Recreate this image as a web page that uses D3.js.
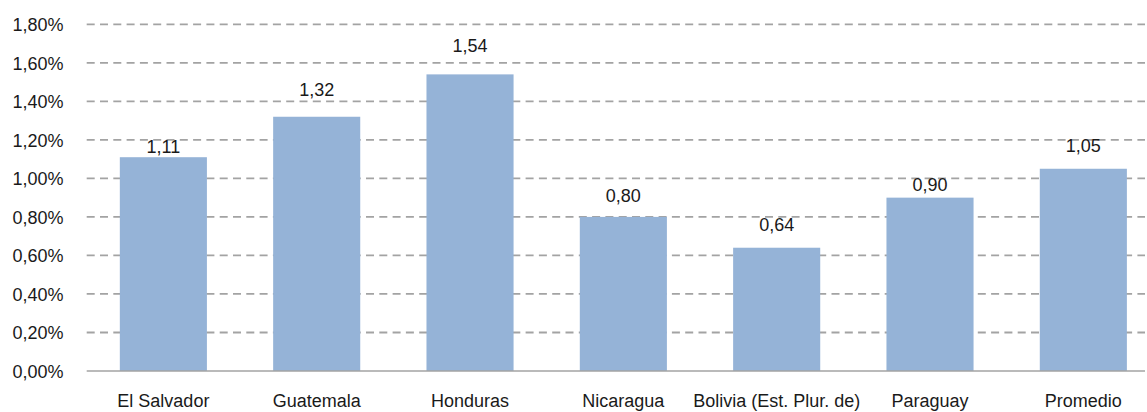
<!DOCTYPE html>
<html>
<head>
<meta charset="utf-8">
<script src="https://cdn.jsdelivr.net/npm/d3@7"></script>
<style>
  html, body { margin: 0; padding: 0; background: #fff; }
  svg { display: block; }
  text { font-family: "Liberation Sans", Arial, sans-serif; fill: #1a1a1a; }
</style>
</head>
<body>
<script>
const categories = ["El Salvador", "Guatemala", "Honduras", "Nicaragua", "Bolivia (Est. Plur. de)", "Paraguay", "Promedio"];
const values = [1.11, 1.32, 1.54, 0.80, 0.64, 0.90, 1.05];
const valueLabels = ["1,11", "1,32", "1,54", "0,80", "0,64", "0,90", "1,05"];
const yTicks = [0, 0.2, 0.4, 0.6, 0.8, 1.0, 1.2, 1.4, 1.6, 1.8];
const yTickLabels = ["0,00%", "0,20%", "0,40%", "0,60%", "0,80%", "1,00%", "1,20%", "1,40%", "1,60%", "1,80%"];
// label placement nudges (px above bar top), as in the original layout
const labelGap = [4, 21, 22, 15, 16.5, 6.5, 16.5];

const W = 1147, H = 412;
const svg = d3.select("body").append("svg").attr("width", W).attr("height", H);

const x = d3.scaleBand().domain(categories).range([86.7, 1160]).paddingInner(0.432).paddingOuter(0.216);
const y = d3.scaleLinear().domain([0, 1.8]).range([371, 24.3]);

const gridRight = 1145;

// gridlines
svg.append("g").selectAll("line").data(yTicks.filter(d => d > 0)).join("line")
  .attr("x1", 86.7).attr("x2", gridRight)
  .attr("y1", d => y(d)).attr("y2", d => y(d))
  .attr("stroke", "#a3a3a3").attr("stroke-width", 1.8)
  .attr("stroke-dasharray", "8,5.3");

// bars
svg.append("g").selectAll("rect").data(values).join("rect")
  .attr("x", (d, i) => x(categories[i]))
  .attr("width", x.bandwidth())
  .attr("y", d => y(d))
  .attr("height", d => y(0) - y(d))
  .attr("fill", "#95b3d7");

// baseline
svg.append("line").attr("x1", 86.7).attr("x2", gridRight)
  .attr("y1", y(0)).attr("y2", y(0))
  .attr("stroke", "#a3a3a3").attr("stroke-width", 1.5);

// y axis labels
const yAxis = d3.axisLeft(y).tickValues(yTicks).tickFormat((d, i) => yTickLabels[i]).tickSize(0).tickPadding(0);
const ya = svg.append("g").attr("transform", "translate(63.5,0)").call(yAxis);
ya.select(".domain").remove();
ya.selectAll("text").attr("font-size", 18).attr("font-family", '"Liberation Sans", Arial, sans-serif').attr("fill", "#1a1a1a").attr("dy", "0.36em");

// x axis labels
const xAxis = d3.axisBottom(x).tickSize(0).tickPadding(0);
const xa = svg.append("g").attr("transform", "translate(0,407)").call(xAxis);
xa.select(".domain").remove();
xa.selectAll("text").attr("font-size", 18).attr("font-family", '"Liberation Sans", Arial, sans-serif').attr("fill", "#1a1a1a").attr("dy", 0).attr("y", 0);

// value labels
svg.append("g").selectAll("text").data(values).join("text")
  .attr("x", (d, i) => x(categories[i]) + x.bandwidth() / 2)
  .attr("y", (d, i) => y(d) - labelGap[i])
  .attr("text-anchor", "middle")
  .attr("font-size", 18)
  .text((d, i) => valueLabels[i]);
</script>
</body>
</html>
